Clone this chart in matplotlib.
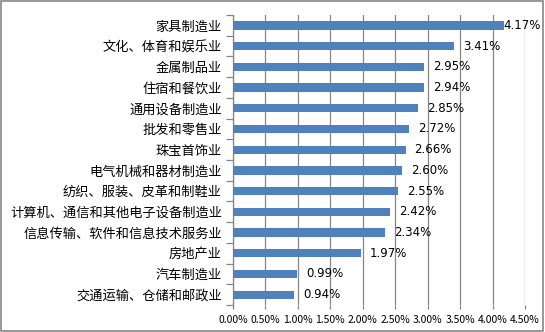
import matplotlib
matplotlib.use("Agg")
import matplotlib.pyplot as plt
from matplotlib.patches import Rectangle
from matplotlib.ticker import FuncFormatter, MultipleLocator

plt.rcParams['font.family'] = ['Noto Sans CJK SC', 'DejaVu Sans']

# 行业及对应比例（%），自上而下
categories = ['家具制造业', '文化、体育和娱乐业', '金属制品业', '住宿和餐饮业',
              '通用设备制造业', '批发和零售业', '珠宝首饰业', '电气机械和器材制造业',
              '纺织、服装、皮革和制鞋业', '计算机、通信和其他电子设备制造业',
              '信息传输、软件和信息技术服务业', '房地产业', '汽车制造业',
              '交通运输、仓储和邮政业']
values = [4.17, 3.41, 2.95, 2.94, 2.85, 2.72, 2.66, 2.60, 2.55, 2.42, 2.34, 1.97, 0.99, 0.94]

fig = plt.figure(figsize=(5.45, 3.32), dpi=100)
ax = fig.add_axes([233/545, 1 - 305/332, 292/545, 290/332])

ypos = list(range(len(categories)))
ax.barh(ypos, values, height=0.4, color='#4F81BD', zorder=3)

ax.set_xlim(0, 4.5)
ax.set_ylim(len(categories) - 0.5, -0.5)
ax.xaxis.set_major_locator(MultipleLocator(0.5))
ax.xaxis.set_major_formatter(FuncFormatter(lambda v, p: f'{v:.2f}%'))
ax.grid(axis='x', color='#868686', linewidth=0.9, zorder=0)

ax.set_yticks(ypos)
ax.set_yticklabels(categories, fontsize=9.5)
ax.set_yticks([i - 0.5 for i in range(len(categories) + 1)], minor=True)
ax.tick_params(axis='y', which='major', length=0, pad=8)
ax.tick_params(axis='y', which='minor', length=5, color='#868686', width=0.9)
ax.tick_params(axis='x', length=3, color='#868686', width=0.9, labelsize=7.5, pad=4)

for s in ['top', 'right', 'bottom']:
    ax.spines[s].set_visible(False)
ax.spines['left'].set_color('#868686')
ax.spines['left'].set_linewidth(0.9)

# 数值标签，最长的一条贴着柱端
for y, v in zip(ypos, values):
    off = 0 if v > 4 else 9
    ax.annotate(f'{v:.2f}%', (v, y), xytext=(off, 0), textcoords='offset pixels',
                va='center', ha='left', fontsize=8.5, family='DejaVu Sans', zorder=4)

# 外框
fig.patches.append(Rectangle((0.002, 0.004), 0.995, 0.993, transform=fig.transFigure,
                             fill=False, edgecolor='#868686', linewidth=1.2))

fig.savefig('out.png', dpi=100)
